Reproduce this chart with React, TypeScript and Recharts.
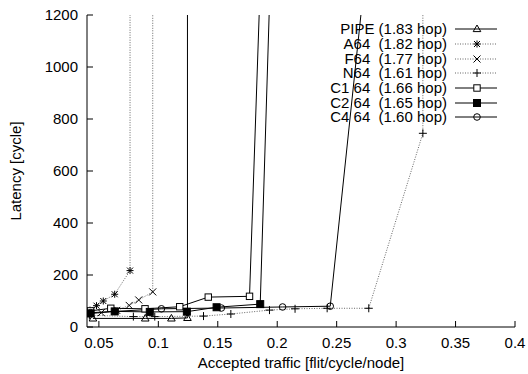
import React from 'react';
import { LineChart, Line, XAxis, YAxis } from 'recharts';

// accepted traffic [flit/cycle/node] and latency [cycle] per network
const pipeTraffic = [0.045, 0.089, 0.111, 0.1245, 0.1245];
const pipeLatency = [33, 33, 33, 35, 5000];

const a64Traffic = [0.0425, 0.048, 0.0537, 0.0633, 0.0762, 0.0762];
const a64Latency = [65, 82, 100, 126, 217, 5000];

const f64Traffic = [0.043, 0.052, 0.065, 0.0755, 0.0835, 0.0953, 0.0953];
const f64Latency = [55, 55, 64, 83, 104, 135, 5000];

const n64Traffic = [0.042, 0.079, 0.097, 0.138, 0.161, 0.1935, 0.215, 0.242, 0.277, 0.3225, 0.3225];
const n64Latency = [45, 40, 40, 42, 50, 65, 70, 72, 72, 745, 5000];

const c1Traffic = [0.043, 0.06, 0.0888, 0.118, 0.142, 0.1767, 0.1908];
const c1Latency = [62, 72, 70, 78, 115, 118, 2000];

const c2Traffic = [0.043, 0.0633, 0.0928, 0.124, 0.149, 0.1857, 0.1986];
const c2Latency = [52, 60, 58, 59, 76, 88, 2000];

const c4Traffic = [0.043, 0.0636, 0.1026, 0.153, 0.2045, 0.2446, 0.2888];
const c4Latency = [55, 60, 70, 73, 77, 80, 2000];

const xTicks = [0.05, 0.1, 0.15, 0.2, 0.25, 0.3, 0.35, 0.4];
const yTicks = [0, 200, 400, 600, 800, 1000, 1200];

const FONT = "'Liberation Sans', Arial, Helvetica, sans-serif";
const TOP = 15;
const BOTTOM = 327;
const LEFT = 87;
const RIGHT = 515;

const zip = (xs: number[], ys: number[]) => xs.map((x, i) => ({ x, y: ys[i] }));

type MarkerKind = 'triangle' | 'star' | 'cross' | 'plus' | 'square' | 'filled' | 'circle';

function Marker({ kind, cx, cy }: { kind: MarkerKind; cx: number; cy: number }) {
  const s = { stroke: '#000', strokeWidth: 1 };
  switch (kind) {
    case 'triangle':
      return <polygon points={`${cx},${cy - 4} ${cx + 3.8},${cy + 2.6} ${cx - 3.8},${cy + 2.6}`} fill="none" {...s} />;
    case 'star':
      return (
        <g {...s}>
          <line x1={cx - 3.5} y1={cy} x2={cx + 3.5} y2={cy} />
          <line x1={cx} y1={cy - 3.5} x2={cx} y2={cy + 3.5} />
          <line x1={cx - 3} y1={cy - 3} x2={cx + 3} y2={cy + 3} />
          <line x1={cx - 3} y1={cy + 3} x2={cx + 3} y2={cy - 3} />
        </g>
      );
    case 'cross':
      return (
        <g {...s}>
          <line x1={cx - 3.5} y1={cy - 3.5} x2={cx + 3.5} y2={cy + 3.5} />
          <line x1={cx - 3.5} y1={cy + 3.5} x2={cx + 3.5} y2={cy - 3.5} />
        </g>
      );
    case 'plus':
      return (
        <g {...s}>
          <line x1={cx - 4} y1={cy} x2={cx + 4} y2={cy} />
          <line x1={cx} y1={cy - 4} x2={cx} y2={cy + 4} />
        </g>
      );
    case 'square':
      return <rect x={cx - 3.2} y={cy - 3.2} width={6.4} height={6.4} fill="#fff" {...s} />;
    case 'filled':
      return <rect x={cx - 3.5} y={cy - 3.5} width={7} height={7} fill="#000" {...s} />;
    default:
      return <circle cx={cx} cy={cy} r={3.3} fill="none" {...s} />;
  }
}

const dotFor = (kind: MarkerKind) => (p: any) => {
  if (p.cy == null || p.cy < TOP - 2) return <g key={`d-${p.index}`} />;
  return <Marker key={`d-${p.index}`} kind={kind} cx={p.cx} cy={p.cy} />;
};

const series = [
  { name: 'PIPE', label: 'PIPE (1.83 hop)', data: zip(pipeTraffic, pipeLatency), kind: 'triangle' as MarkerKind, dotted: false },
  { name: 'A64', label: 'A64  (1.82 hop)', data: zip(a64Traffic, a64Latency), kind: 'star' as MarkerKind, dotted: true },
  { name: 'F64', label: 'F64  (1.77 hop)', data: zip(f64Traffic, f64Latency), kind: 'cross' as MarkerKind, dotted: true },
  { name: 'N64', label: 'N64  (1.61 hop)', data: zip(n64Traffic, n64Latency), kind: 'plus' as MarkerKind, dotted: true },
  { name: 'C1', label: 'C1 64  (1.66 hop)', data: zip(c1Traffic, c1Latency), kind: 'square' as MarkerKind, dotted: false },
  { name: 'C2', label: 'C2 64  (1.65 hop)', data: zip(c2Traffic, c2Latency), kind: 'filled' as MarkerKind, dotted: false },
  { name: 'C4', label: 'C4 64  (1.60 hop)', data: zip(c4Traffic, c4Latency), kind: 'circle' as MarkerKind, dotted: false },
];

const XTick = (p: any) => (
  <g>
    <line x1={p.x} y1={BOTTOM} x2={p.x} y2={BOTTOM - 6} stroke="#000" />
    <text x={p.x} y={BOTTOM + 21} textAnchor="middle" fontSize={15} fontFamily={FONT} fill="#000">
      {String(p.payload.value)}
    </text>
  </g>
);
const XTopTick = (p: any) => <line x1={p.x} y1={TOP} x2={p.x} y2={TOP + 6} stroke="#000" />;
const YTick = (p: any) => (
  <g>
    <line x1={LEFT} y1={p.y} x2={LEFT + 6} y2={p.y} stroke="#000" />
    <text x={LEFT - 9} y={p.y + 5} textAnchor="end" fontSize={15} fontFamily={FONT} fill="#000">
      {String(p.payload.value)}
    </text>
  </g>
);
const YRightTick = (p: any) => <line x1={RIGHT} y1={p.y} x2={RIGHT - 6} y2={p.y} stroke="#000" />;

function LegendBox() {
  return (
    <div style={{ position: 'absolute', left: 0, top: 0, width: 528, height: 374, pointerEvents: 'none' }}>
      {series.map((s, i) => {
        const cy = 29.3 + i * 14.67;
        return (
          <React.Fragment key={s.name}>
            <div
              style={{
                position: 'absolute',
                right: 528 - 447,
                top: cy - 7,
                height: 14,
                lineHeight: '14px',
                fontSize: 15,
                fontFamily: FONT,
                whiteSpace: 'pre',
                color: '#000',
              }}
            >
              {s.label}
            </div>
            <svg style={{ position: 'absolute', left: 453, top: cy - 7 }} width={46} height={14}>
              <line
                x1={2}
                y1={7}
                x2={44}
                y2={7}
                stroke={s.dotted ? '#666' : '#000'}
                strokeDasharray={s.dotted ? '1 1.5' : undefined}
              />
              <Marker kind={s.kind} cx={24} cy={7} />
            </svg>
          </React.Fragment>
        );
      })}
    </div>
  );
}

export default function App() {
  return (
    <div style={{ position: 'absolute', left: 0, top: 0, width: 528, height: 374, background: '#fff' }}>
      <LineChart width={528} height={374} margin={{ top: TOP, right: 13, bottom: 7, left: 0 }}>
        <XAxis
          type="number"
          dataKey="x"
          domain={[0.04, 0.4]}
          ticks={xTicks}
          allowDataOverflow
          height={40}
          tickSize={0}
          tickMargin={0}
          tickLine={false}
          axisLine={{ stroke: '#000' }}
          tick={<XTick />}
          label={{
            value: 'Accepted traffic [flit/cycle/node]',
            content: (p: any) => (
              <text x={p.viewBox.x + p.viewBox.width / 2} y={BOTTOM + 41} textAnchor="middle" fontSize={15} fontFamily={FONT} fill="#000">
                Accepted traffic [flit/cycle/node]
              </text>
            ),
          }}
        />
        <XAxis
          xAxisId="top"
          orientation="top"
          type="number"
          dataKey="x"
          domain={[0.04, 0.4]}
          ticks={xTicks}
          allowDataOverflow
          height={0}
          tickSize={0}
          tickMargin={0}
          tickLine={false}
          axisLine={{ stroke: '#000' }}
          tick={<XTopTick />}
        />
        <YAxis
          type="number"
          domain={[0, 1200]}
          ticks={yTicks}
          allowDataOverflow
          width={87}
          tickSize={0}
          tickMargin={0}
          tickLine={false}
          axisLine={{ stroke: '#000' }}
          tick={<YTick />}
          label={{
            value: 'Latency [cycle]',
            content: () => (
              <text
                x={21}
                y={(TOP + BOTTOM) / 2}
                transform={`rotate(-90 21 ${(TOP + BOTTOM) / 2})`}
                textAnchor="middle"
                fontSize={15}
                fontFamily={FONT}
                fill="#000"
              >
                Latency [cycle]
              </text>
            ),
          }}
        />
        <YAxis
          yAxisId="right"
          orientation="right"
          type="number"
          domain={[0, 1200]}
          ticks={yTicks}
          allowDataOverflow
          width={0}
          tickSize={0}
          tickMargin={0}
          tickLine={false}
          axisLine={{ stroke: '#000' }}
          tick={<YRightTick />}
        />
        {series.map((s) => (
          <Line
            key={s.name}
            data={s.data}
            dataKey="y"
            name={s.name}
            type="linear"
            stroke={s.dotted ? '#666' : '#000'}
            strokeWidth={1}
            strokeDasharray={s.dotted ? '1 1.5' : undefined}
            dot={dotFor(s.kind)}
            activeDot={false}
            isAnimationActive={false}
          />
        ))}
      </LineChart>
      <LegendBox />
    </div>
  );
}
